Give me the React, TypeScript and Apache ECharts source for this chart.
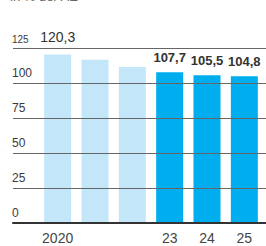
import React, { useEffect, useRef } from "react";
import * as echarts from "echarts";

const categories = ["2020", "21", "22", "23", "24", "25"];
const values = [120.3, 116.6, 111.4, 107.7, 105.5, 104.8];
const shownCategoryLabels = ["2020", "23", "24", "25"];
const valueLabels = ["120,3", "", "", "107,7", "105,5", "104,8"];
const highlighted = [false, false, false, true, true, true];
const yTicks = { min: 0, max: 125, interval: 25 };
const subtitle = "in % der AE";

const LIGHT = "#c3e7f9";
const STRONG = "#00aeef";
const FONT = "Liberation Sans, Arial, sans-serif";

export default function App() {
  const ref = useRef<HTMLDivElement>(null);
  useEffect(() => {
    document.body.style.margin = "0";
    const chart = echarts.init(ref.current!, undefined, { renderer: "svg" });
    const data = values.map((v, i) => ({
      value: v,
      itemStyle: { color: highlighted[i] ? STRONG : LIGHT },
      label: valueLabels[i]
        ? {
            show: true,
            position: "top",
            formatter: valueLabels[i],
            fontSize: highlighted[i] ? 13 : 14,
            fontWeight: highlighted[i] ? "bold" : "normal",
            distance: highlighted[i] ? 8 : 11,
            color: "#333",
            fontFamily: FONT,
          }
        : { show: false },
    }));
    chart.setOption({
      animation: false,
      textStyle: { fontFamily: FONT },
      graphic: [
        {
          type: "text",
          left: 10,
          top: -10,
          style: { text: subtitle, fontSize: 13, fill: "#666", fontFamily: FONT },
        },
      ],
      grid: [
        { left: 13, right: 0, top: 48, height: 175, containLabel: false },
        { left: 39, right: 3, top: 48, height: 175, containLabel: false },
      ],
      xAxis: [
        {
          type: "value",
          gridIndex: 0,
          min: 0,
          max: 1,
          z: 5,
          axisLine: { show: true, lineStyle: { color: "#333", width: 2 } },
          axisTick: { show: false },
          axisLabel: { show: false },
          splitLine: { show: false },
        },
        {
          type: "category",
          gridIndex: 1,
          data: categories,
          axisLine: { show: false },
          axisTick: { show: false },
          axisLabel: {
            margin: 8,
            fontSize: 14,
            color: "#444",
            fontFamily: FONT,
            interval: 0,
            formatter: (v: string) => (shownCategoryLabels.includes(v) ? v : ""),
          },
        },
      ],
      yAxis: [
        {
          type: "value",
          gridIndex: 0,
          min: yTicks.min,
          max: yTicks.max,
          interval: yTicks.interval,
          z: 5,
          axisLine: { show: false },
          axisTick: { show: false },
          splitLine: { show: true, lineStyle: { color: "#666", width: 1 } },
          axisLabel: {
            align: "left",
            verticalAlign: "bottom",
            margin: 1,
            padding: [0, 0, 4, 0],
            fontSize: 12,
            color: "#3a3a3a",
            fontFamily: FONT,
            formatter: (v: number) => (v === 125 ? "{s|125}" : String(v)),
            rich: { s: { fontSize: 10, color: "#3a3a3a", fontFamily: FONT } },
          },
        },
        {
          type: "value",
          gridIndex: 1,
          min: yTicks.min,
          max: yTicks.max,
          interval: yTicks.interval,
          show: false,
          splitLine: { show: false },
        },
      ],
      series: [
        {
          type: "bar",
          xAxisIndex: 1,
          yAxisIndex: 1,
          barWidth: 27,
          z: 1,
          data,
        },
      ],
    });
    return () => chart.dispose();
  }, []);
  return (
    <div
      ref={ref}
      style={{ position: "absolute", left: 0, top: 0, width: 266, height: 246 }}
    />
  );
}
